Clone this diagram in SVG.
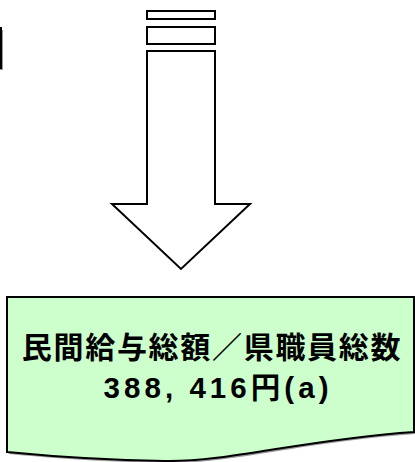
<svg xmlns="http://www.w3.org/2000/svg" width="415" height="462" viewBox="0 0 415 462">
<style>
.sh{fill:#9a9a9a;stroke:none}
.ln{fill:#fff;stroke:#000;stroke-width:2}
.doc{fill:#ccffcc;stroke:#000;stroke-width:2}
.t{font-family:"Noto Sans CJK JP","Liberation Sans",sans-serif;font-weight:bold;fill:#000;text-anchor:middle}
.n{font-family:"Liberation Sans","Noto Sans CJK JP",sans-serif;font-weight:bold;fill:#000;text-anchor:middle}
</style>
<rect width="415" height="462" fill="#fff"/>
<g id="leftbox">
<rect class="sh" x="-200" y="30" width="203" height="40"/>
<rect class="ln" x="-200" y="28" width="201" height="40"/>
</g>
<g id="arrow">
<rect class="ln" x="147" y="11" width="68" height="8"/>
<rect class="ln" x="147" y="27" width="68" height="17"/>
<path class="ln" d="M147,51 L215,51 L215,204 L250,204 L181,269 L112,204 L147,204 Z"/>
</g>
<g id="result">
<path class="sh" d="M9,299 H416 V434 C302,442 232,464 167,463 C100,462 50,458 9,454 Z"/>
<path class="doc" d="M7,297 H414 V432 C300,440 230,462 165,461 C98,460 48,456 7,452 Z"/>
<text class="t" x="212" y="358" font-size="30" letter-spacing="1.7">民間給与総額／県職員総数</text>
<text class="n" x="216" y="398" font-size="29.5" textLength="225" lengthAdjust="spacing">388, 416円(a)</text>
</g>
</svg>
